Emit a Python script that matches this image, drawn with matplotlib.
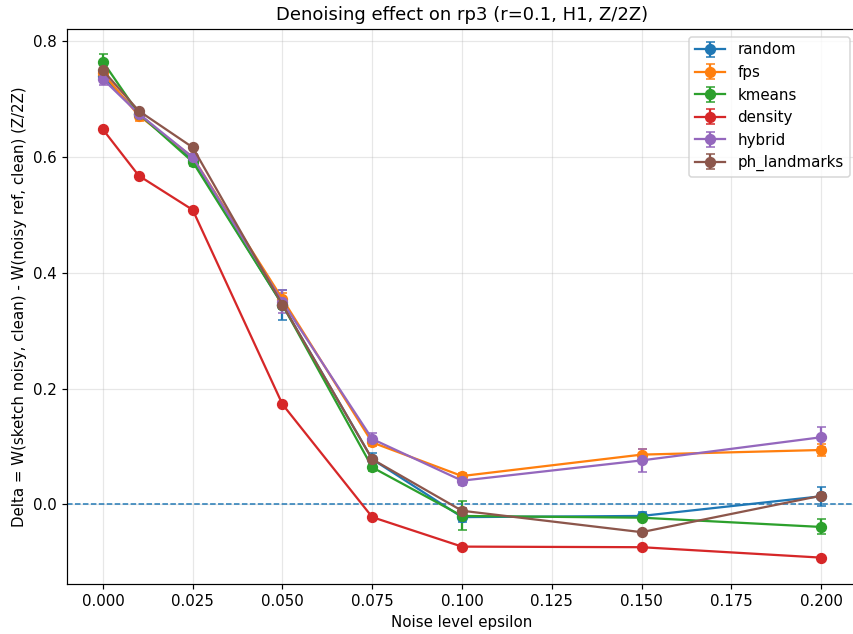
import numpy as np
import matplotlib
matplotlib.use("Agg")
import matplotlib.pyplot as plt

eps = [0.0, 0.01, 0.025, 0.05, 0.075, 0.1, 0.15, 0.2]

methods = ["random", "fps", "kmeans", "density", "hybrid", "ph_landmarks"]

random_mean = [0.740, 0.675, 0.595, 0.345, 0.078, -0.022, -0.020, 0.014]
random_err = [0.010, 0.006, 0.006, 0.026, 0.010, 0.008, 0.006, 0.016]
fps_mean = [0.745, 0.672, 0.600, 0.355, 0.107, 0.049, 0.086, 0.094]
fps_err = [0.008, 0.010, 0.006, 0.010, 0.006, 0.006, 0.010, 0.010]
kmeans_mean = [0.765, 0.675, 0.592, 0.345, 0.064, -0.020, -0.023, -0.039]
kmeans_err = [0.013, 0.006, 0.008, 0.008, 0.006, 0.025, 0.006, 0.013]
density_mean = [0.648, 0.568, 0.509, 0.173, -0.022, -0.073, -0.074, -0.092]
density_err = [0.002, 0.002, 0.002, 0.002, 0.002, 0.002, 0.002, 0.002]
hybrid_mean = [0.735, 0.675, 0.600, 0.350, 0.113, 0.041, 0.076, 0.116]
hybrid_err = [0.010, 0.006, 0.006, 0.020, 0.010, 0.008, 0.020, 0.017]
ph_mean = [0.750, 0.680, 0.617, 0.345, 0.078, -0.011, -0.048, 0.015]
ph_err = [0.004, 0.004, 0.004, 0.004, 0.004, 0.004, 0.004, 0.004]

means = [random_mean, fps_mean, kmeans_mean, density_mean, hybrid_mean, ph_mean]
errs = [random_err, fps_err, kmeans_err, density_err, hybrid_err, ph_err]

fig = plt.figure(figsize=(853 / 108, 634 / 108), dpi=108)
# the original was cropped on the right, so the axes run a bit past the edge
ax = fig.add_axes([67 / 853, 1 - 584 / 634, 790 / 853, 555 / 634])
for name, m, e in zip(methods, means, errs):
    ax.errorbar(eps, m, yerr=e, marker='o', markersize=6.5, capsize=3, label=name)

ax.axhline(0, linestyle='--', linewidth=1)
ax.set_xlabel('Noise level epsilon')
ax.set_ylabel('Delta = W(sketch noisy, clean) - W(noisy ref, clean) (Z/2Z)')
ax.set_title('Denoising effect on rp3 (r=0.1, H1, Z/2Z)')
ax.grid(True, alpha=0.3)
ax.legend(loc='upper right')
fig.savefig('out.png', dpi=108)
